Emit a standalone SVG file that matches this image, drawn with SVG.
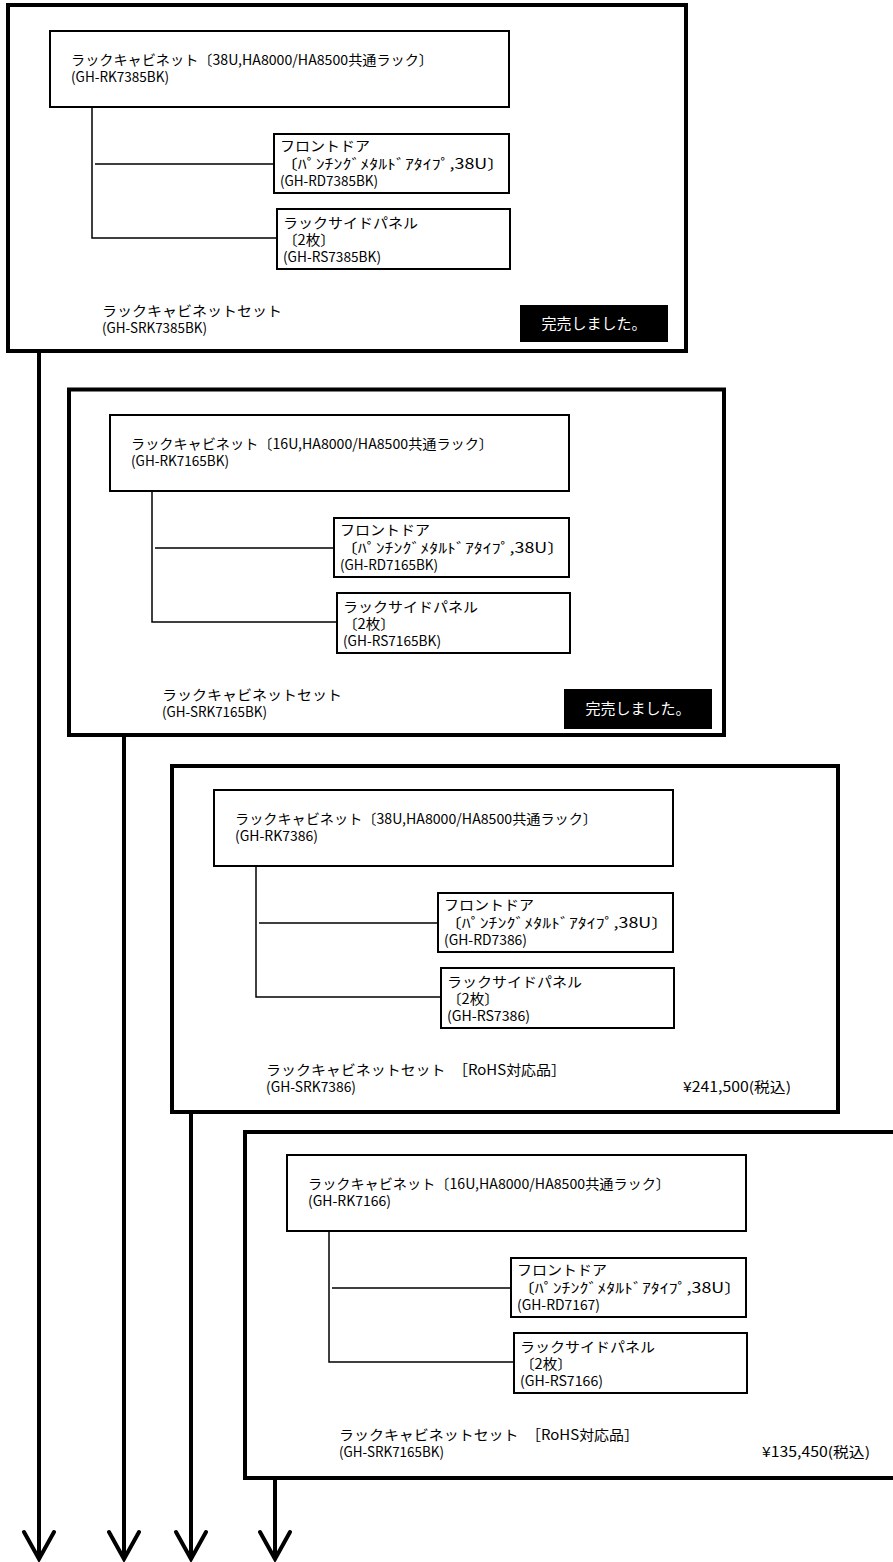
<svg xmlns="http://www.w3.org/2000/svg" width="893" height="1562" viewBox="0 0 893 1562">
<style>
.panel{fill:#fff;stroke:#000;stroke-width:4}
.box{fill:#fff;stroke:#000;stroke-width:2}
.t{font-family:"Noto Sans CJK JP","Noto Sans",sans-serif;font-size:14px;fill:#000}
.w{fill:#fff;font-size:15px}
.ln{stroke:#000;stroke-width:1.5;fill:none}
.arrow{stroke:#000;stroke-width:4;fill:none}
.sold{fill:#000}
</style>
<defs>
<marker id="vhead" markerUnits="userSpaceOnUse" viewBox="-34 -20 38 40" markerWidth="38" markerHeight="40" refX="0" refY="0" orient="auto">
<path d="M-27,-15 L0,0 L-27,15" fill="none" stroke="#000" stroke-width="4" stroke-linecap="round" stroke-linejoin="miter"/>
</marker>
</defs>
<rect width="893" height="1562" fill="#fff"/>

<!-- Panel 1 -->
<g id="panel1">
<rect class="panel" x="8" y="5" width="678" height="346"/>
<text class="t" x="102" y="316" textLength="180" lengthAdjust="spacingAndGlyphs">ラックキャビネットセット</text>
<text class="t" x="102" y="333" textLength="105" lengthAdjust="spacingAndGlyphs">(GH-SRK7385BK)</text>
</g>
<g id="panel1-sold">
<rect class="sold" x="520" y="305" width="148" height="37"/>
<text class="t w" x="594" y="329" text-anchor="middle">完売しました。</text>
</g>
<g id="panel1-cabinet">
<rect class="box" x="50" y="31" width="459" height="76"/>
<text class="t" x="71" y="65" textLength="362" lengthAdjust="spacingAndGlyphs">ラックキャビネット〔38U,HA8000/HA8500共通ラック〕</text>
<text class="t" x="71" y="82" textLength="98" lengthAdjust="spacingAndGlyphs">(GH-RK7385BK)</text>
</g>
<g id="panel1-door">
<rect class="box" x="274" y="134" width="235" height="59"/>
<text class="t" x="280" y="151" textLength="90" lengthAdjust="spacingAndGlyphs">フロントドア</text>
<text class="t" x="280" y="169" textLength="225" lengthAdjust="spacingAndGlyphs">〔ﾊﾟﾝﾁﾝｸﾞﾒﾀﾙﾄﾞｱﾀｲﾌﾟ,38U〕</text>
<text class="t" x="280" y="186" textLength="98" lengthAdjust="spacingAndGlyphs">(GH-RD7385BK)</text>
</g>
<g id="panel1-side">
<rect class="box" x="277" y="209" width="233" height="60"/>
<text class="t" x="283" y="228" textLength="135" lengthAdjust="spacingAndGlyphs">ラックサイドパネル</text>
<text class="t" x="283" y="245" textLength="52" lengthAdjust="spacingAndGlyphs">〔2枚〕</text>
<text class="t" x="283" y="262" textLength="98" lengthAdjust="spacingAndGlyphs">(GH-RS7385BK)</text>
</g>

<!-- Panel 2 -->
<g id="panel2">
<rect class="panel" x="69" y="389.5" width="655" height="345.5"/>
<text class="t" x="162" y="700" textLength="180" lengthAdjust="spacingAndGlyphs">ラックキャビネットセット</text>
<text class="t" x="162" y="717" textLength="105" lengthAdjust="spacingAndGlyphs">(GH-SRK7165BK)</text>
</g>
<g id="panel2-sold">
<rect class="sold" x="564" y="689" width="148" height="40"/>
<text class="t w" x="638" y="714" text-anchor="middle">完売しました。</text>
</g>
<g id="panel2-cabinet" transform="translate(60,384)">
<rect class="box" x="50" y="31" width="459" height="76"/>
<text class="t" x="71" y="65" textLength="362" lengthAdjust="spacingAndGlyphs">ラックキャビネット〔16U,HA8000/HA8500共通ラック〕</text>
<text class="t" x="71" y="82" textLength="98" lengthAdjust="spacingAndGlyphs">(GH-RK7165BK)</text>
</g>
<g id="panel2-door" transform="translate(60,384)">
<rect class="box" x="274" y="134" width="235" height="59"/>
<text class="t" x="280" y="151" textLength="90" lengthAdjust="spacingAndGlyphs">フロントドア</text>
<text class="t" x="280" y="169" textLength="225" lengthAdjust="spacingAndGlyphs">〔ﾊﾟﾝﾁﾝｸﾞﾒﾀﾙﾄﾞｱﾀｲﾌﾟ,38U〕</text>
<text class="t" x="280" y="186" textLength="98" lengthAdjust="spacingAndGlyphs">(GH-RD7165BK)</text>
</g>
<g id="panel2-side" transform="translate(60,384)">
<rect class="box" x="277" y="209" width="233" height="60"/>
<text class="t" x="283" y="228" textLength="135" lengthAdjust="spacingAndGlyphs">ラックサイドパネル</text>
<text class="t" x="283" y="245" textLength="52" lengthAdjust="spacingAndGlyphs">〔2枚〕</text>
<text class="t" x="283" y="262" textLength="98" lengthAdjust="spacingAndGlyphs">(GH-RS7165BK)</text>
</g>

<!-- Panel 3 -->
<g id="panel3">
<rect class="panel" x="172" y="766" width="666" height="346"/>
<text class="t" x="266" y="1075" textLength="300" lengthAdjust="spacingAndGlyphs">ラックキャビネットセット　［RoHS対応品］</text>
<text class="t" x="266" y="1092" textLength="90" lengthAdjust="spacingAndGlyphs">(GH-SRK7386)</text>
<text class="t" x="791" y="1092" text-anchor="end" textLength="108" lengthAdjust="spacingAndGlyphs">¥241,500(税込)</text>
</g>
<g id="panel3-cabinet" transform="translate(164,759)">
<rect class="box" x="50" y="31" width="459" height="76"/>
<text class="t" x="71" y="65" textLength="362" lengthAdjust="spacingAndGlyphs">ラックキャビネット〔38U,HA8000/HA8500共通ラック〕</text>
<text class="t" x="71" y="82" textLength="83" lengthAdjust="spacingAndGlyphs">(GH-RK7386)</text>
</g>
<g id="panel3-door" transform="translate(164,759)">
<rect class="box" x="274" y="134" width="235" height="59"/>
<text class="t" x="280" y="151" textLength="90" lengthAdjust="spacingAndGlyphs">フロントドア</text>
<text class="t" x="280" y="169" textLength="225" lengthAdjust="spacingAndGlyphs">〔ﾊﾟﾝﾁﾝｸﾞﾒﾀﾙﾄﾞｱﾀｲﾌﾟ,38U〕</text>
<text class="t" x="280" y="186" textLength="83" lengthAdjust="spacingAndGlyphs">(GH-RD7386)</text>
</g>
<g id="panel3-side" transform="translate(164,759)">
<rect class="box" x="277" y="209" width="233" height="60"/>
<text class="t" x="283" y="228" textLength="135" lengthAdjust="spacingAndGlyphs">ラックサイドパネル</text>
<text class="t" x="283" y="245" textLength="52" lengthAdjust="spacingAndGlyphs">〔2枚〕</text>
<text class="t" x="283" y="262" textLength="83" lengthAdjust="spacingAndGlyphs">(GH-RS7386)</text>
</g>

<!-- Panel 4 -->
<g id="panel4">
<rect class="panel" x="245" y="1132" width="666" height="346"/>
<text class="t" x="339" y="1440" textLength="300" lengthAdjust="spacingAndGlyphs">ラックキャビネットセット　［RoHS対応品］</text>
<text class="t" x="339" y="1457" textLength="105" lengthAdjust="spacingAndGlyphs">(GH-SRK7165BK)</text>
<text class="t" x="870" y="1457" text-anchor="end" textLength="108" lengthAdjust="spacingAndGlyphs">¥135,450(税込)</text>
</g>
<g id="panel4-cabinet" transform="translate(237,1124)">
<rect class="box" x="50" y="31" width="459" height="76"/>
<text class="t" x="71" y="65" textLength="362" lengthAdjust="spacingAndGlyphs">ラックキャビネット〔16U,HA8000/HA8500共通ラック〕</text>
<text class="t" x="71" y="82" textLength="83" lengthAdjust="spacingAndGlyphs">(GH-RK7166)</text>
</g>
<g id="panel4-door" transform="translate(237,1124)">
<rect class="box" x="274" y="134" width="235" height="59"/>
<text class="t" x="280" y="151" textLength="90" lengthAdjust="spacingAndGlyphs">フロントドア</text>
<text class="t" x="280" y="169" textLength="225" lengthAdjust="spacingAndGlyphs">〔ﾊﾟﾝﾁﾝｸﾞﾒﾀﾙﾄﾞｱﾀｲﾌﾟ,38U〕</text>
<text class="t" x="280" y="186" textLength="83" lengthAdjust="spacingAndGlyphs">(GH-RD7167)</text>
</g>
<g id="panel4-side" transform="translate(237,1124)">
<rect class="box" x="277" y="209" width="233" height="60"/>
<text class="t" x="283" y="228" textLength="135" lengthAdjust="spacingAndGlyphs">ラックサイドパネル</text>
<text class="t" x="283" y="245" textLength="52" lengthAdjust="spacingAndGlyphs">〔2枚〕</text>
<text class="t" x="283" y="262" textLength="83" lengthAdjust="spacingAndGlyphs">(GH-RS7166)</text>
</g>

<!-- Connectors -->
<g id="connectors">
<path class="ln" d="M92,107 V238 H277 M95,164 H274"/>
<path class="ln" d="M152,491 V622 H337 M155,548 H334"/>
<path class="ln" d="M256,866 V997 H441 M259,923 H438"/>
<path class="ln" d="M329,1231 V1362 H514 M332,1288 H511"/>
<line class="arrow" x1="39" y1="353" x2="39" y2="1559" marker-end="url(#vhead)"/>
<line class="arrow" x1="124" y1="737" x2="124" y2="1559" marker-end="url(#vhead)"/>
<line class="arrow" x1="191" y1="1114" x2="191" y2="1559" marker-end="url(#vhead)"/>
<line class="arrow" x1="275" y1="1480" x2="275" y2="1559" marker-end="url(#vhead)"/>
</g>
</svg>
